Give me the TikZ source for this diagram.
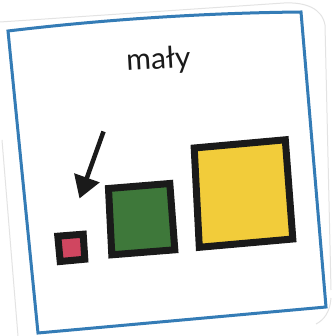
\documentclass[tikz,border=0pt]{standalone}
\usepackage{fontspec}
\setmainfont{Lato}
\usetikzlibrary{arrows.meta}
\definecolor{cardblue}{RGB}{52,124,182}
\definecolor{sqpink}{RGB}{208,70,96}
\definecolor{sqgreen}{RGB}{62,120,58}
\definecolor{sqyellow}{RGB}{242,204,58}
\definecolor{sqframe}{RGB}{26,26,26}
\begin{document}
\begin{tikzpicture}[x=1pt,y=-1pt,
  cardedge/.style={draw=gray!22, line width=1pt},
  cardborder/.style={draw=cardblue, line width=3pt, line join=miter},
  framed/.style={draw=sqframe, line width=7pt, line join=miter},
  pointer/.style={draw=sqframe, line width=4.5pt, -{Triangle[length=22pt,width=26pt]}},
  caption/.style={font=\fontsize{30}{30}\selectfont, text=sqframe, inner sep=0pt, anchor=base, rotate=3.3}]
\useasboundingbox (0,0) rectangle (331,336);
\fill[white] (0,0) rectangle (331,336);
% outer edge of the card (faint)
\draw[cardedge] (0,22) -- (284,3) .. controls (305,2) and (322,8) .. (325,25) -- (331,290);
\draw[cardedge] (2,140) -- (18,336);
\draw[cardedge] (331,298) .. controls (330,312) and (324,320) .. (316,324);
% blue border
\draw[cardborder] (8,31) .. controls (100,20) and (200,13) .. (301,12) -- (326,307) -- (38,333) -- cycle;
% title
\node[caption] (title) at (159,69) {mały};
% squares
\draw[framed, fill=sqpink] (57.8,236.2) -- (83.2,234.2) -- (84.8,259.2) -- (60.2,261.5) -- cycle;
\draw[framed, fill=sqgreen] (108.5,188.5) -- (169.8,183.5) -- (174.8,249.8) -- (111.8,254.8) -- cycle;
\draw[framed, fill=sqyellow] (194.2,148) -- (285.3,139.8) -- (292.8,239) -- (199.3,247.3) -- cycle;
% arrow
\coordinate (arrowstart) at (103.5,131.5);
\coordinate (arrowtip) at (79.5,198.5);
\draw[pointer] (arrowstart) -- (arrowtip);
\end{tikzpicture}
\end{document}
